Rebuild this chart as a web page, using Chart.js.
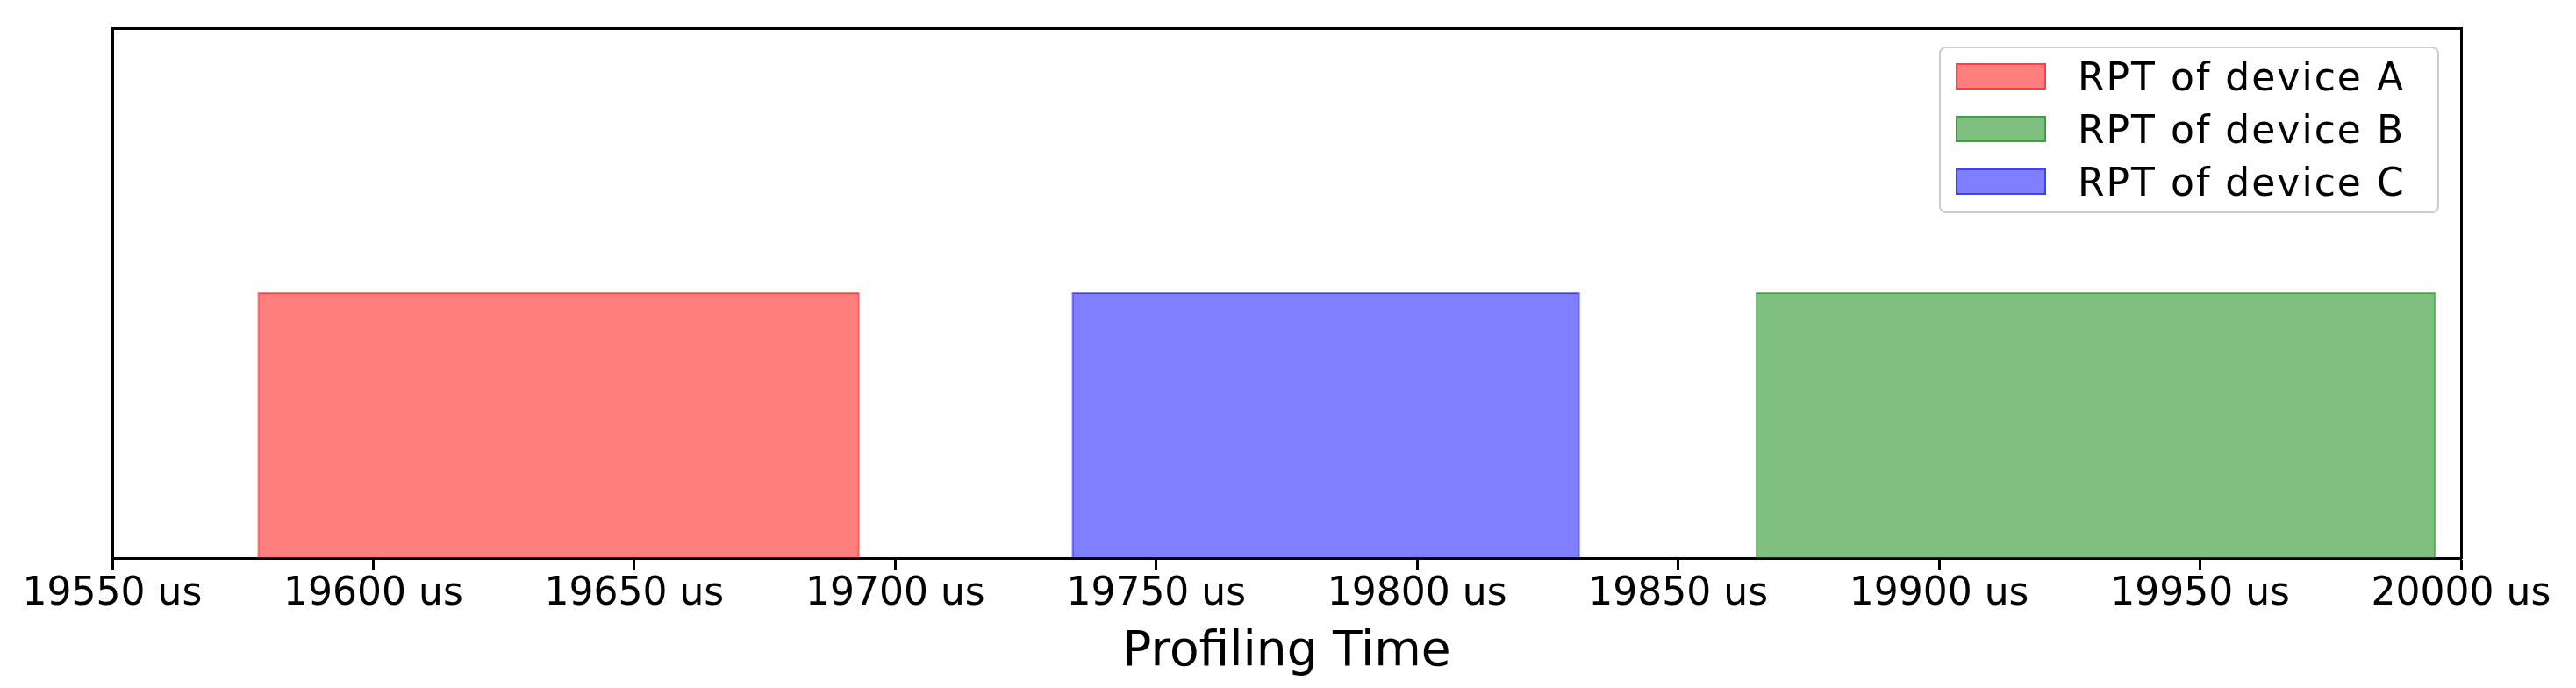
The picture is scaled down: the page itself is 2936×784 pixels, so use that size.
<!DOCTYPE html>
<html>
<head>
<meta charset="utf-8">
<title>RPT profiling</title>
<script src="https://cdn.jsdelivr.net/npm/chart.js@4/dist/chart.umd.min.js"></script>
<style>
  body { margin: 0; background: #fff; }
  #wrap { position: relative; width: 2936px; height: 784px; }
  #legend {
    position: absolute; left: 2210px; top: 53px; width: 570px; height: 190px;
    box-sizing: border-box; border: 2px solid #ccc; border-radius: 8px;
    background: rgba(255,255,255,0.8); padding-top: 2px;
    font-family: 'DejaVu Sans', sans-serif; font-size: 44px; letter-spacing: 2px; color: #000;
  }
  #legend .row { display: flex; align-items: center; height: 60px; white-space: nowrap; }
  #legend .sw { width: 103px; height: 30px; box-sizing: border-box; margin-left: 17px; margin-right: 36px; border: 2px solid; }
</style>
</head>
<body>
<div id="wrap">
  <canvas id="chart"></canvas>
  <div id="legend"></div>
</div>
<script>
// one busy interval (RPT) per device, in microseconds
const categories = ['RPT of device A', 'RPT of device B', 'RPT of device C'];
const startUs = [19578, 19865, 19734];
const endUs = [19693, 19995, 19831];
const barLevel = [1, 1, 1];
const xTicks = [19550, 19600, 19650, 19700, 19750, 19800, 19850, 19900, 19950, 20000];

const colors = ['rgba(255,0,0,0.5)', 'rgba(0,128,0,0.5)', 'rgba(0,0,255,0.5)'];

const datasets = categories.map((label, i) => ({
  label: label,
  data: [
    {x: startUs[i], y: 0},
    {x: startUs[i], y: barLevel[i]},
    {x: endUs[i], y: barLevel[i]},
    {x: endUs[i], y: 0}
  ],
  borderColor: colors[i],
  backgroundColor: colors[i],
  borderWidth: 2,
  pointRadius: 0,
  tension: 0,
  fill: 'origin'
}));

const frame = { display: true, color: '#000', width: 3 };

const htmlLegend = {
  id: 'htmlLegend',
  afterUpdate(chart) {
    const box = document.getElementById('legend');
    box.innerHTML = '';
    const items = chart.options.plugins.legend.labels.generateLabels(chart);
    items.forEach(item => {
      const row = document.createElement('div');
      row.className = 'row';
      const sw = document.createElement('span');
      sw.className = 'sw';
      sw.style.background = item.fillStyle;
      sw.style.borderColor = item.strokeStyle;
      const txt = document.createElement('span');
      txt.textContent = item.text;
      row.appendChild(sw);
      row.appendChild(txt);
      box.appendChild(row);
    });
  }
};

const ctx = document.getElementById('chart').getContext('2d');
new Chart(ctx, {
  type: 'line',
  data: { datasets: datasets },
  plugins: [htmlLegend],
  options: {
    responsive: true,
    maintainAspectRatio: false,
    animation: false,
    events: [],
    layout: { padding: { left: 128, right: 131, top: 32, bottom: 0 } },
    plugins: {
      legend: { display: false },
      tooltip: { enabled: false }
    },
    scales: {
      x: {
        type: 'linear',
        position: 'bottom',
        min: 19550,
        max: 20000,
        z: 1,
        afterBuildTicks: axis => { axis.ticks = xTicks.map(v => ({ value: v })); },
        ticks: {
          padding: 7,
          color: '#000',
          maxRotation: 0,
          autoSkip: false,
          font: { family: 'DejaVu Sans', size: 44, lineHeight: 1.0 },
          callback: v => v + ' us'
        },
        grid: { display: true, drawOnChartArea: false, drawTicks: true, tickLength: 13, tickWidth: 3, tickColor: '#000' },
        border: frame,
        title: {
          display: true,
          text: 'Profiling Time',
          color: '#000',
          font: { family: 'DejaVu Sans', size: 55, lineHeight: 1.2 },
          padding: { top: 4, bottom: 7 }
        }
      },
      xTop: {
        type: 'linear',
        position: 'top',
        min: 19550,
        max: 20000,
        z: 1,
        ticks: { display: false },
        grid: { display: false, drawTicks: false },
        border: frame
      },
      y: {
        type: 'linear',
        position: 'left',
        min: 0,
        max: 2,
        z: 1,
        ticks: { display: false },
        grid: { display: false, drawTicks: false },
        border: frame
      },
      yRight: {
        type: 'linear',
        position: 'right',
        min: 0,
        max: 2,
        z: 1,
        ticks: { display: false },
        grid: { display: false, drawTicks: false },
        border: frame
      }
    }
  }
});
</script>
</body>
</html>
